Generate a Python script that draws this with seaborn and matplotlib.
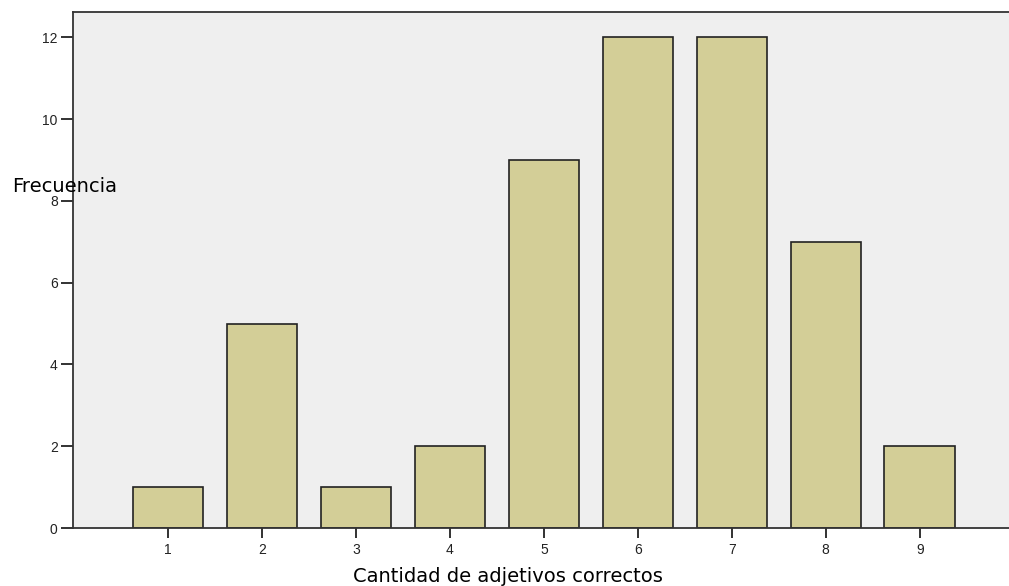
import matplotlib
matplotlib.use("Agg")
import matplotlib.pyplot as plt
import pandas as pd
import seaborn as sns

categories = ["1", "2", "3", "4", "5", "6", "7", "8", "9"]
counts = [1, 5, 1, 2, 9, 12, 12, 7, 2]

sns.set_style("white")
plt.rcParams["font.family"] = ["Liberation Sans", "DejaVu Sans"]

df = pd.DataFrame({"cantidad": categories, "frecuencia": counts})

fig = plt.figure(figsize=(10.09, 5.86), dpi=100)
ax = fig.add_axes([73 / 1009, 58 / 586, 1 - 73 / 1009, (528 - 12) / 586])
ax.set_facecolor("#EFEFEF")

sns.barplot(data=df, x="cantidad", y="frecuencia", color="#D3CE97",
            saturation=1, width=0.75, edgecolor="#222222", linewidth=1.2, ax=ax)

ax.set_xlim(-1.01, 8.95)
ax.set_ylim(0, 12.62)
ax.set_yticks([0, 2, 4, 6, 8, 10, 12])
ax.set_xlabel("")
ax.set_ylabel("")

for side in ["left", "top", "bottom"]:
    ax.spines[side].set_color("#333333")
    ax.spines[side].set_linewidth(1.3)
ax.spines["right"].set_visible(False)

ax.tick_params(axis="both", direction="out", length=8, width=1.3, color="#222222",
               labelsize=10, labelcolor="#222222", bottom=True, left=True)
ax.tick_params(axis="y", length=9, pad=2)
ax.tick_params(axis="x", length=7, pad=4)

# labels placed like the SPSS output
fig.text(12 / 1009, 1 - 187 / 586, "Frecuencia", ha="left", va="center",
         fontsize=14, color="#000000", family="DejaVu Sans")
fig.text(508 / 1009, 1 - 576 / 586, "Cantidad de adjetivos correctos", ha="center",
         va="center", fontsize=14, color="#000000", family="DejaVu Sans")

fig.savefig("out.png", dpi=100)
